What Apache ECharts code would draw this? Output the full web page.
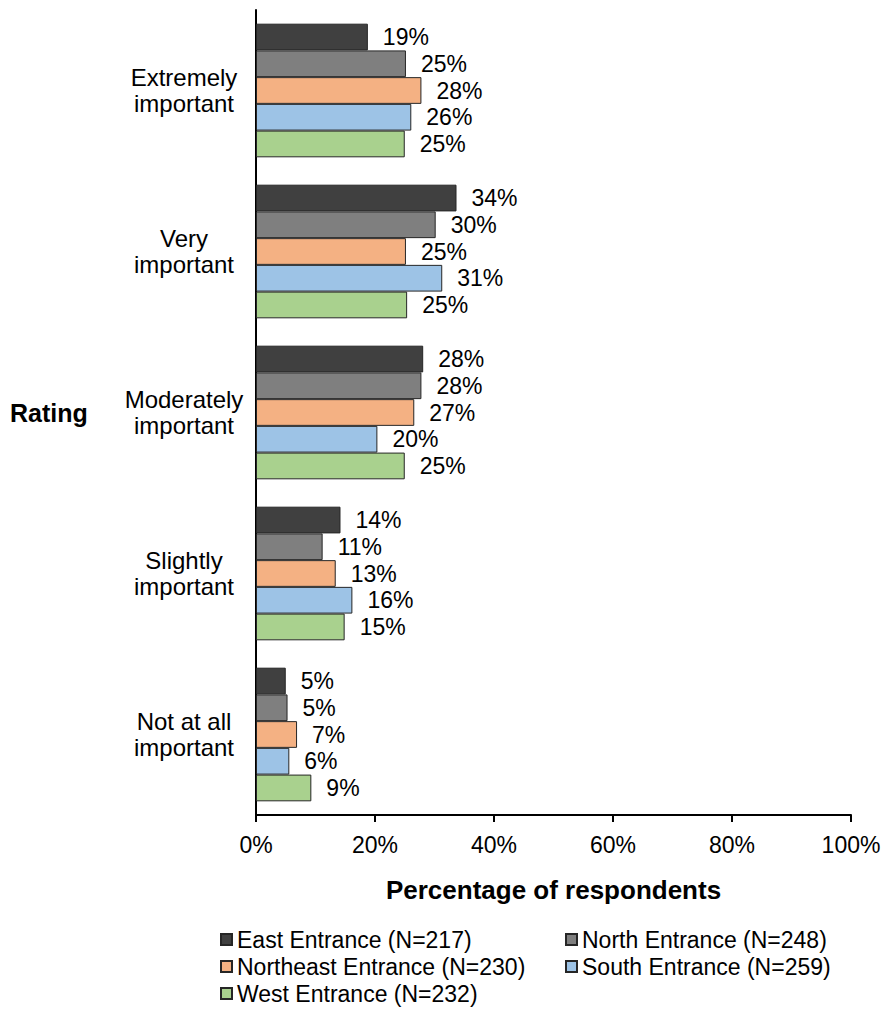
<!DOCTYPE html>
<html>
<head>
<meta charset="utf-8">
<script src="https://cdn.jsdelivr.net/npm/echarts@6/dist/echarts.min.js"></script>
<style>
  html, body { margin: 0; padding: 0; background: #fff; }
  #chart { width: 885px; height: 1012px; }
</style>
</head>
<body>
<div id="chart"></div>
<script>
const categories = ['Extremely\nimportant', 'Very\nimportant', 'Moderately\nimportant', 'Slightly\nimportant', 'Not at all\nimportant'];
const xTicks = [0, 20, 40, 60, 80, 100];

const east = [18.8, 33.7, 28.1, 14.2, 5.0];
const north = [25.2, 30.2, 27.8, 11.2, 5.3];
const northeast = [27.8, 25.2, 26.6, 13.4, 6.9];
const south = [26.1, 31.3, 20.4, 16.2, 5.6];
const west = [25.0, 25.4, 25.0, 14.9, 9.3];

const seriesNames = ['East Entrance (N=217)', 'North Entrance (N=248)', 'Northeast Entrance (N=230)', 'South Entrance (N=259)', 'West Entrance (N=232)'];
const seriesData = [east, north, northeast, south, west];
const colors = ['#404040', '#7f7f7f', '#f4b183', '#9dc3e6', '#a9d18e'];

const font = 'Liberation Sans, Arial, sans-serif';

const chart = echarts.init(document.getElementById('chart'), null, { renderer: 'svg' });

const series = seriesNames.map(function (name, i) {
    return {
        name: name,
        type: 'bar',
        data: seriesData[i],
        barGap: '0%',
        barCategoryGap: '17%',
        itemStyle: { color: colors[i], borderColor: '#262626', borderWidth: 1 },
        label: {
            show: true,
            position: 'right',
            distance: 15,
            color: '#000',
            fontFamily: font,
            fontSize: 23,
            formatter: function (p) { return Math.round(p.value) + '%'; }
        }
    };
});

// legend laid out in two columns
const legendPos = [[220, 928], [565, 928], [220, 955], [565, 955], [220, 982]];
const legends = seriesNames.map(function (name, i) {
    return {
        data: [name],
        left: legendPos[i][0],
        top: legendPos[i][1],
        icon: 'rect',
        itemWidth: 11,
        itemHeight: 11,
        padding: 0,
        textStyle: { fontFamily: font, fontSize: 23, color: '#000' }
    };
});

const option = {
    animation: false,
    backgroundColor: '#fff',
    grid: { left: 256, right: 34, top: 10, bottom: 197 },
    xAxis: {
        type: 'value',
        min: xTicks[0],
        max: xTicks[xTicks.length - 1],
        interval: 20,
        name: 'Percentage of respondents',
        nameLocation: 'middle',
        nameGap: 62,
        nameTextStyle: { fontFamily: font, fontSize: 26, fontWeight: 'bold', color: '#000' },
        axisLine: { show: true, lineStyle: { color: '#000', width: 2 } },
        axisTick: { show: true, length: 7, lineStyle: { color: '#000', width: 2 } },
        axisLabel: { formatter: '{value}%', fontFamily: font, fontSize: 23, color: '#000', margin: 18 },
        splitLine: { show: false }
    },
    yAxis: {
        type: 'category',
        data: categories,
        inverse: true,
        axisLine: { show: true, lineStyle: { color: '#000', width: 2 } },
        axisTick: { show: false },
        axisLabel: {
            fontFamily: font,
            fontSize: 24,
            lineHeight: 26,
            color: '#000',
            align: 'center',
            margin: 72
        }
    },
    legend: legends,
    graphic: [{
        type: 'text',
        left: 10,
        top: 400,
        style: { text: 'Rating', font: 'bold 25px Liberation Sans, Arial, sans-serif', fill: '#000' }
    }],
    series: series
};

window.addEventListener('resize', function () {
    chart.resize();
});

option && chart.setOption(option);
</script>
</body>
</html>
